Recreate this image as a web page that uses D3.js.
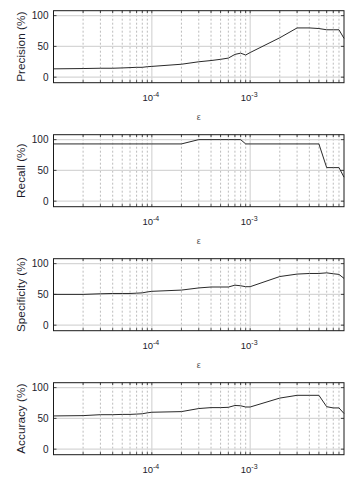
<!DOCTYPE html>
<html><head><meta charset="utf-8">
<script src="https://cdn.jsdelivr.net/npm/d3@7"></script>
<style>
html,body{margin:0;padding:0;background:#fff;}
svg{display:block;font-family:"Liberation Sans",Arial,sans-serif;}
</style></head>
<body>
<svg id="c" width="357" height="483"></svg>
<script>
const epsilon = [1e-5,2e-5,3e-5,4e-5,5e-5,6e-5,7e-5,8e-5,9e-5,
                 1e-4,2e-4,3e-4,4e-4,5e-4,6e-4,7e-4,8e-4,9e-4,
                 1e-3,2e-3,3e-3,4e-3,5e-3,6e-3,7e-3,8e-3,9e-3];
const precision   = [13.5,14,14.5,14.5,15,15.5,16,16,17, 17.5,21,25,27,29,31,37,39,36, 40,64,80,80,79,77,77,77,63];
const recall      = [93,93,93,93,93,93,93,93,93, 93,93,100,100,100,100,100,100,93, 93,93,93,93,93,54.5,54.5,54.5,39];
const specificity = [50,50,51,51.5,51.5,51.5,52,52.5,54, 55,57,60.5,62,62,62,65,64,62.5, 62.5,79,83,84,84,85,83.5,82.5,76];
const accuracy    = [54,54.5,56,56,56.5,56.5,57,57.5,59, 60,61,66,67.5,67.5,68,71,70.5,68.5, 68.5,83,87.5,87.5,87.5,69,67,67,58];

const panelLabels = ["Precision (%)","Recall (%)","Specificity (%)","Accuracy (%)"];
const panelSeries = [precision, recall, specificity, accuracy];
const yTicks = [0,50,100];
const xMajor = [1e-4,1e-3];
const xMinor = [2e-5,3e-5,4e-5,5e-5,6e-5,7e-5,8e-5,9e-5,
                2e-4,3e-4,4e-4,5e-4,6e-4,7e-4,8e-4,9e-4,
                2e-3,3e-3,4e-3,5e-3,6e-3,7e-3,8e-3];
const xTickLabels = [{v:1e-4, exp:"-4"},{v:1e-3, exp:"-3"}];
const xAxisTitle = "ε";

const svg = d3.select("#c");
const left = 53.5, right = 344, ph = 72, top0 = 10.7, step = 124;
const x = d3.scaleLog().domain([1e-5, 9e-3]).range([left, right]);

panelSeries.forEach((series, i) => {
  const t = top0 + i*step, b = t + ph;
  const y = d3.scaleLinear().domain([-9,108]).range([b, t]);
  const g = svg.append("g");

  g.selectAll(".mn").data(xMinor).join("line")
    .attr("x1", d=>x(d)).attr("x2", d=>x(d)).attr("y1", t).attr("y2", b)
    .attr("stroke", "#b4b4b4").attr("stroke-width", 0.9).attr("stroke-dasharray", "2,2");
  g.selectAll(".mj").data(xMajor).join("line")
    .attr("x1", d=>x(d)).attr("x2", d=>x(d)).attr("y1", t).attr("y2", b)
    .attr("stroke", "#d6d6d6").attr("stroke-width", 1.2);
  g.selectAll(".yg").data(yTicks).join("line")
    .attr("x1", left).attr("x2", right).attr("y1", d=>y(d)).attr("y2", d=>y(d))
    .attr("stroke", "#d6d6d6").attr("stroke-width", 1.2);

  const allX = xMinor.concat(xMajor);
  g.selectAll(".tb").data(allX).join("line")
    .attr("x1", d=>x(d)).attr("x2", d=>x(d)).attr("y1", b).attr("y2", b-2.5)
    .attr("stroke", "#222").attr("stroke-width", 0.8);
  g.selectAll(".tt").data(allX).join("line")
    .attr("x1", d=>x(d)).attr("x2", d=>x(d)).attr("y1", t).attr("y2", t+2.5)
    .attr("stroke", "#222").attr("stroke-width", 0.8);
  g.selectAll(".tl").data(yTicks).join("line")
    .attr("x1", left).attr("x2", left+3).attr("y1", d=>y(d)).attr("y2", d=>y(d))
    .attr("stroke", "#222").attr("stroke-width", 0.8);
  g.selectAll(".tr").data(yTicks).join("line")
    .attr("x1", right).attr("x2", right-3).attr("y1", d=>y(d)).attr("y2", d=>y(d))
    .attr("stroke", "#222").attr("stroke-width", 0.8);

  const line = d3.line().x((d,j)=>x(epsilon[j])).y(d=>y(d));
  g.append("path").datum(series).attr("d", line)
    .attr("fill","none").attr("stroke","#2a2a2a").attr("stroke-width",1);

  g.append("rect").attr("x", left).attr("y", t).attr("width", right-left).attr("height", ph)
    .attr("fill","none").attr("stroke","#1a1a1a").attr("stroke-width",1);

  g.selectAll(".yl").data(yTicks).join("text")
    .attr("x", left-5).attr("y", d=>y(d)).attr("dy","0.35em")
    .attr("text-anchor","end").attr("font-size", 10).attr("fill","#1c1c2c")
    .text(d=>d);

  xTickLabels.forEach(tl => {
    const tx = g.append("text").attr("x", x(tl.v)-1).attr("y", b+18.5)
      .attr("text-anchor","middle").attr("fill","#1c1c2c").attr("font-size", 9.5);
    tx.append("tspan").text("10");
    tx.append("tspan").attr("dy", -4).attr("font-size", 7).text(tl.exp);
  });

  // x axis title (the last panel's title falls below the visible page in the reference)
  if (i < panelSeries.length - 1) {
    g.append("text").attr("x", (left+right)/2).attr("y", b+37)
      .attr("text-anchor","middle").attr("font-size", 9).attr("fill","#555")
      .text(xAxisTitle);
  }

  g.append("text").attr("transform", `translate(24.5,${(t+b)/2}) rotate(-90)`)
    .attr("text-anchor","middle").attr("font-size", 11.8).attr("fill","#1c1c2c")
    .text(panelLabels[i]);
});
</script>
</body></html>
